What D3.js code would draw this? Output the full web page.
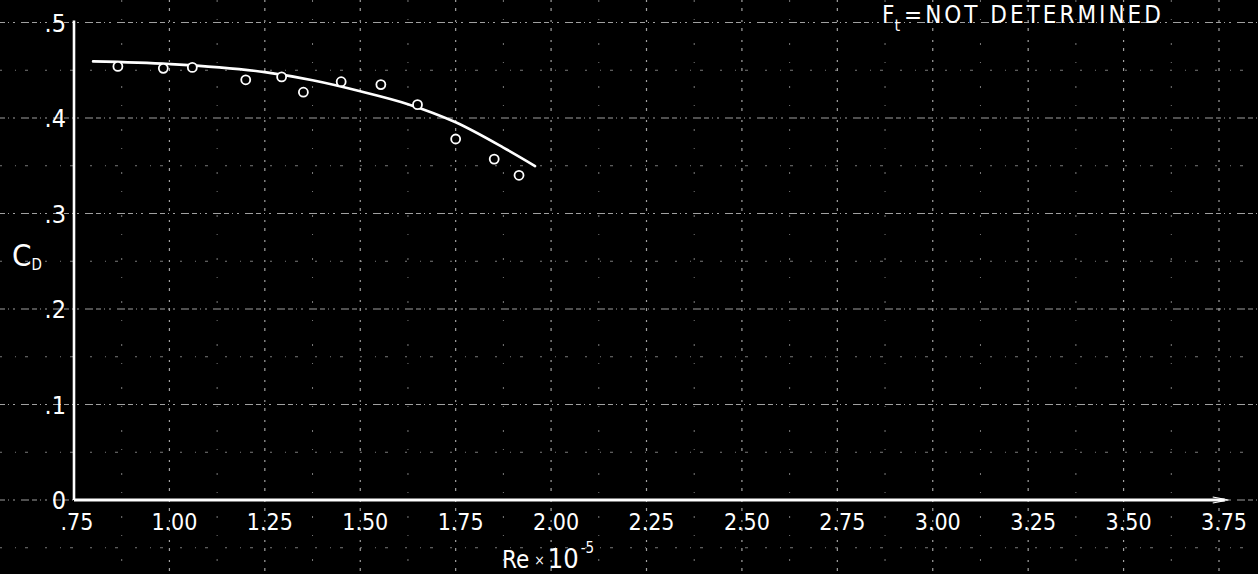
<!DOCTYPE html>
<html>
<head>
<meta charset="utf-8">
<script src="https://cdn.jsdelivr.net/npm/d3@7/dist/d3.min.js"></script>
<style>
  html, body { margin: 0; padding: 0; background: #000; overflow: hidden; }
  svg { display: block; }
  text { font-family: 'DejaVu Sans Condensed', 'Liberation Sans Narrow', 'DejaVu Sans', sans-serif; fill: #fff; }
</style>
</head>
<body>
<svg id="chart" width="1258" height="574"></svg>
<script>
// Measured drag coefficient against Reynolds number (×10^-5)
const reValues = [0.865, 0.984, 1.060, 1.200, 1.294, 1.351, 1.450, 1.554, 1.650, 1.750, 1.851, 1.916];
const cdValues = [0.454, 0.452, 0.453, 0.440, 0.443, 0.427, 0.438, 0.435, 0.414, 0.378, 0.357, 0.340];

// Faired curve through the test points
const fairedRe = [0.80, 1.00, 1.25, 1.375, 1.50, 1.625, 1.75, 1.875, 1.958];
const fairedCd = [0.4593, 0.4565, 0.448, 0.4395, 0.428, 0.4145, 0.3955, 0.369, 0.3497];

// Axis ticks
const xTicks = [0.75, 1.00, 1.25, 1.50, 1.75, 2.00, 2.25, 2.50, 2.75, 3.00, 3.25, 3.50, 3.75];
const xTickLabels = [".75", "1.00", "1.25", "1.50", "1.75", "2.00", "2.25", "2.50", "2.75", "3.00", "3.25", "3.50", "3.75"];
const yTicks = [0, 0.1, 0.2, 0.3, 0.4, 0.5];
const yTickLabels = ["0", ".1", ".2", ".3", ".4", ".5"];

const W = 1258, H = 574;
const svg = d3.select("#chart");

const x = d3.scaleLinear().domain([0.75, 3.75]).range([74, 1219]);
const y = d3.scaleLinear().domain([0, 0.5]).range([500, 22.5]);

// Background graph-paper grid, extending across the whole sheet
const grid = svg.append("g").attr("class", "grid");
const majorV = d3.range(1.00, 3.76, 0.25);
const minorV = d3.range(0.875, 3.7, 0.25);
const majorH = d3.range(0.1, 0.51, 0.1);
const minorH = d3.range(-0.05, 0.46, 0.1);

grid.selectAll("line.mv").data(minorV).join("line")
  .attr("x1", d => x(d)).attr("x2", d => x(d)).attr("y1", 0).attr("y2", H)
  .attr("stroke", "#7a7a7a").attr("stroke-width", 1).attr("stroke-dasharray", "2,17,1,23");
grid.selectAll("line.mh").data(minorH).join("line")
  .attr("y1", d => y(d)).attr("y2", d => y(d)).attr("x1", 0).attr("x2", W)
  .attr("stroke", "#7a7a7a").attr("stroke-width", 1).attr("stroke-dasharray", "2,13,1,9,3,17");
grid.selectAll("line.Mv").data(majorV).join("line")
  .attr("x1", d => x(d)).attr("x2", d => x(d)).attr("y1", 0).attr("y2", H)
  .attr("stroke", "#a0a0a0").attr("stroke-width", 1.2).attr("stroke-dasharray", "2,6,3,9");
grid.selectAll("line.Mh").data(majorH.concat([0])).join("line")
  .attr("y1", d => y(d)).attr("y2", d => y(d)).attr("x1", 0).attr("x2", W)
  .attr("stroke", "#a0a0a0").attr("stroke-width", 1.2).attr("stroke-dasharray", "5,3,1,4,2,6,8,3");

// Axes drawn as heavy ink lines
const axes = svg.append("g").attr("class", "axes");
axes.append("line")
  .attr("x1", x(0.75)).attr("x2", x(0.75)).attr("y1", y(0.5) - 2).attr("y2", y(0))
  .attr("stroke", "#fff").attr("stroke-width", 2.6);
axes.append("line")
  .attr("x1", x(0.75)).attr("x2", x(3.765)).attr("y1", y(0)).attr("y2", y(0))
  .attr("stroke", "#fff").attr("stroke-width", 3);
axes.append("path")
  .attr("d", `M${x(3.765) - 12},${y(0) - 3} L${x(3.765) + 4},${y(0)} L${x(3.765) - 12},${y(0) + 3}`)
  .attr("fill", "none").attr("stroke", "#fff").attr("stroke-width", 1.2);

// Tick labels
svg.append("g").selectAll("text").data(xTicks).join("text")
  .attr("x", (d, i) => x(d) + (i === 0 ? 3 : 5))
  .attr("y", 530)
  .attr("text-anchor", "middle")
  .attr("font-size", 23)
  .text((d, i) => xTickLabels[i]);

svg.append("g").selectAll("text").data(yTicks).join("text")
  .attr("x", 66)
  .attr("y", d => y(d) + 9)
  .attr("text-anchor", "end")
  .attr("font-size", 25)
  .text((d, i) => yTickLabels[i]);

// Axis titles
const xt = svg.append("text").attr("x", 502).attr("y", 568).attr("font-size", 24);
xt.append("tspan").text("Re");
xt.append("tspan").attr("font-size", 14).attr("dx", 5).attr("dy", -3).text("×");
xt.append("tspan").attr("font-size", 27).attr("dx", 3).attr("dy", 3).text("10");
xt.append("tspan").attr("font-size", 15).attr("dx", 2).attr("dy", -15).text("-5");

const yt = svg.append("text").attr("x", 12).attr("y", 266).attr("font-size", 31);
yt.append("tspan").text("C");
yt.append("tspan").attr("font-size", 15).attr("dx", 0).attr("dy", 4).text("D");

// Annotation
const note = svg.append("text").attr("x", 882).attr("y", 23).attr("font-size", 24);
note.append("tspan").text("F");
note.append("tspan").attr("font-size", 16).attr("dy", 8).text("t");
note.append("tspan").attr("dy", -8).attr("dx", 4).attr("letter-spacing", 3).text("=NOT DETERMINED");

// Faired curve
const line = d3.line().x(d => x(d[0])).y(d => y(d[1])).curve(d3.curveMonotoneX);
svg.append("path")
  .datum(fairedRe.map((r, i) => [r, fairedCd[i]]))
  .attr("d", line)
  .attr("fill", "none").attr("stroke", "#fff").attr("stroke-width", 2.6).attr("stroke-linecap", "round");

// Test points
svg.append("g").selectAll("circle").data(reValues).join("circle")
  .attr("cx", d => x(d))
  .attr("cy", (d, i) => y(cdValues[i]))
  .attr("r", 4.5)
  .attr("fill", "#000")
  .attr("stroke", "#fff").attr("stroke-width", 1.8);
</script>
</body>
</html>
